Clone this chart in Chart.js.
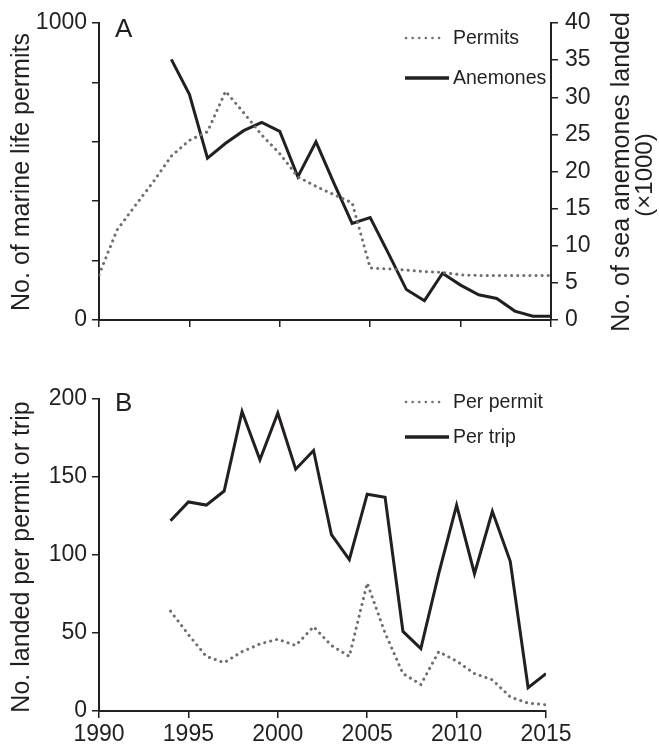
<!DOCTYPE html>
<html>
<head>
<meta charset="utf-8">
<script src="https://cdn.jsdelivr.net/npm/chart.js@4.4.0/dist/chart.umd.min.js"></script>
<style>
  html, body { margin: 0; padding: 0; background: #fff; }
  #wrap { position: relative; width: 659px; height: 745px; }
  #chartA { position: absolute; left: 0; top: 0; }
  #chartB { position: absolute; left: 0; top: 350px; }
</style>
</head>
<body>
<div id="wrap">
  <canvas id="chartA" width="659" height="350"></canvas>
  <canvas id="chartB" width="659" height="395"></canvas>
</div>
<script>
// --- data ---
const permitYears = [1990, 1991, 1992, 1993, 1994, 1995, 1996, 1997, 1998, 1999, 2000, 2001, 2002,
                     2003, 2004, 2005, 2006, 2007, 2008, 2009, 2010, 2011, 2012, 2013, 2014, 2015];
const permits = [152, 303, 385, 465, 552, 605, 634, 770, 698, 623, 560, 482, 450,
                 422, 395, 175, 172, 168, 163, 160, 152, 150, 150, 150, 150, 150];

const landedYears = [1994, 1995, 1996, 1997, 1998, 1999, 2000, 2001, 2002, 2003, 2004,
                     2005, 2006, 2007, 2008, 2009, 2010, 2011, 2012, 2013, 2014, 2015];
const anemones = [35.1, 30.4, 21.8, 23.8, 25.5, 26.6, 25.4, 19.3, 24.0, 18.4, 13.0,
                  13.8, 9.0, 4.1, 2.6, 6.3, 4.7, 3.4, 2.9, 1.2, 0.5, 0.5];   // x1000
const perPermit = [64, 49, 35, 31, 38, 43, 46, 42, 54, 42, 35,
                   82, 50, 24, 17, 38, 32, 24, 20, 9, 5, 4];
const perTrip = [122, 134, 132, 141, 192, 161, 191, 155, 167, 113, 97,
                 139, 137, 51, 40, 88, 132, 88, 128, 96, 15, 24];

const FONT = "'Liberation Sans', Arial, Helvetica, sans-serif";
const INK = '#231f20';
const DOTS = '#6d6e71';

Chart.defaults.font.family = FONT;
Chart.defaults.color = INK;

const pts = (xs, ys) => xs.map((x, i) => ({ x, y: ys[i] }));

// dotted / solid line styles
const dotted = { borderColor: DOTS, borderWidth: 3, borderDash: [0.1, 6], borderCapStyle: 'round' };
const solid = { borderColor: INK, borderWidth: 3, borderJoinStyle: 'miter' };

// --- texts, panel letters and legend drawn on the canvas ---
const extrasPlugin = {
  id: 'extras',
  afterDraw(chart, args, opts) {
    const ctx = chart.ctx;
    ctx.save();
    ctx.fillStyle = INK;
    ctx.textBaseline = 'middle';
    for (const t of opts.texts || []) {
      ctx.save();
      ctx.font = `${t.size}px ${FONT}`;
      ctx.translate(t.x, t.y);
      if (t.rotate) ctx.rotate(t.rotate);
      ctx.textAlign = t.align || 'center';
      ctx.fillText(t.text, 0, 0);
      ctx.restore();
    }
    const lg = opts.legend;
    if (lg) {
      chart.data.datasets.forEach((ds, i) => {
        const y = lg.y[i];
        const isDot = !!ds.borderDash;
        ctx.save();
        ctx.strokeStyle = ds.borderColor;
        ctx.lineWidth = isDot ? 2.5 : 3.5;
        ctx.lineCap = isDot ? 'round' : 'butt';
        ctx.setLineDash(isDot ? [0.1, 6.5] : []);
        ctx.beginPath();
        ctx.moveTo(lg.x + (isDot ? 1 : 0), y);
        ctx.lineTo(lg.x + (isDot ? 38 : 44), y);
        ctx.stroke();
        ctx.restore();
        ctx.font = `${lg.size}px ${FONT}`;
        ctx.textAlign = 'left';
        ctx.fillText(ds.label, lg.textX, y + 1);
      });
    }
    ctx.restore();
  }
};

const axisGrid = { drawOnChartArea: false, drawTicks: true, tickLength: 7, color: INK, lineWidth: 1.5 };
const axisBorder = { color: INK, width: 2 };
const tickFont = { size: 23 };

// --- Panel A ---
new Chart(document.getElementById('chartA'), {
  type: 'line',
  data: {
    datasets: [
      { label: 'Permits', data: pts(permitYears, permits), yAxisID: 'yL', ...dotted },
      { label: 'Anemones', data: pts(landedYears, anemones), yAxisID: 'yR', ...solid }
    ]
  },
  options: {
    responsive: false,
    animation: false,
    layout: { padding: { top: 23, left: 0, right: 0, bottom: 0 } },
    elements: { point: { radius: 0 }, line: { tension: 0 } },
    plugins: {
      legend: { display: false },
      tooltip: { enabled: false },
      extras: {
        texts: [
          { text: 'A', x: 115, y: 30, size: 26, align: 'left' },
          { text: 'No. of marine life permits', x: 22, y: 172, size: 25, rotate: -Math.PI / 2 },
          { text: 'No. of sea anemones landed', x: 622, y: 172, size: 25, rotate: -Math.PI / 2 },
          { text: '(\u00d71000)', x: 645, y: 175, size: 24, rotate: -Math.PI / 2 }
        ],
        legend: { x: 405, y: [38, 78], textX: 453, size: 19.5 }
      }
    },
    scales: {
      x: {
        type: 'linear', min: 1990, max: 2015,
        ticks: { stepSize: 5, callback: () => '' },
        grid: axisGrid, border: axisBorder,
        afterFit: s => { s.height = 30; }
      },
      yL: {
        position: 'left', min: 0, max: 1000,
        ticks: { stepSize: 100, font: tickFont, padding: 5, callback: v => (v % 500 === 0 ? String(v) : '') },
        grid: axisGrid, border: axisBorder,
        afterFit: s => { s.width = 99; }
      },
      yR: {
        position: 'right', min: 0, max: 40,
        ticks: { stepSize: 5, font: tickFont, padding: 7, callback: v => String(v) },
        grid: axisGrid, border: axisBorder,
        afterFit: s => { s.width = 108; }
      }
    }
  },
  plugins: [extrasPlugin]
});

// --- Panel B ---
new Chart(document.getElementById('chartB'), {
  type: 'line',
  data: {
    datasets: [
      { label: 'Per permit', data: pts(landedYears, perPermit), ...dotted },
      { label: 'Per trip', data: pts(landedYears, perTrip), ...solid }
    ]
  },
  options: {
    responsive: false,
    animation: false,
    layout: { padding: { top: 49, left: 0, right: 113, bottom: 0 } },
    elements: { point: { radius: 0 }, line: { tension: 0 } },
    plugins: {
      legend: { display: false },
      tooltip: { enabled: false },
      extras: {
        texts: [
          { text: 'B', x: 115, y: 54, size: 26, align: 'left' },
          { text: 'No. landed per permit or trip', x: 22, y: 207, size: 25, rotate: -Math.PI / 2 }
        ],
        legend: { x: 405, y: [52, 87], textX: 453, size: 19.5 }
      }
    },
    scales: {
      x: {
        type: 'linear', min: 1990, max: 2015,
        ticks: { stepSize: 5, font: tickFont, padding: 3, maxRotation: 0, callback: v => String(v) },
        grid: axisGrid, border: axisBorder,
        afterFit: s => { s.height = 34; }
      },
      y: {
        position: 'left', min: 0, max: 200,
        ticks: { stepSize: 50, font: tickFont, padding: 5, callback: v => String(v) },
        grid: axisGrid, border: axisBorder,
        afterFit: s => { s.width = 99; }
      }
    }
  },
  plugins: [extrasPlugin]
});
</script>
</body>
</html>
